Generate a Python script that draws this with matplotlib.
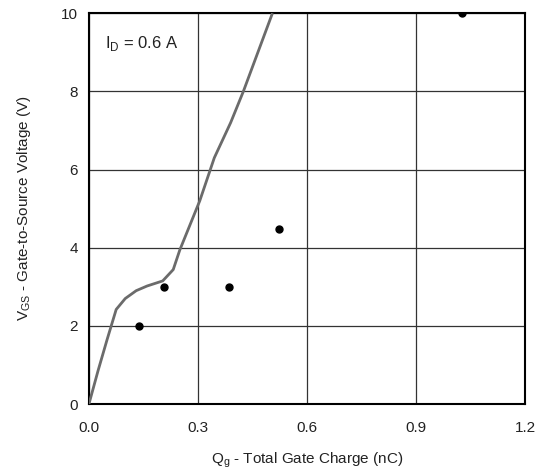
import matplotlib.pyplot as plt

plt.rcParams['font.family'] = ['Liberation Sans', 'DejaVu Sans']
plt.rcParams['mathtext.fontset'] = 'custom'
plt.rcParams['mathtext.rm'] = 'Liberation Sans'

# Gate charge curve
qg_curve = [0.0, 0.025, 0.05, 0.075, 0.10, 0.13, 0.16, 0.203, 0.232, 0.25, 0.305, 0.345, 0.39, 0.425, 0.505]
vgs_curve = [0.0, 0.85, 1.65, 2.42, 2.70, 2.90, 3.02, 3.15, 3.44, 3.94, 5.20, 6.30, 7.20, 8.00, 10.0]

# Measured points
qg_pts = [0.137, 0.207, 0.386, 0.524, 1.028]
vgs_pts = [2.0, 3.0, 3.0, 4.47, 10.0]

fig = plt.figure(figsize=(5.39, 4.72), dpi=100)
ax = fig.add_axes([0.165, 0.144, 0.809, 0.828])

ax.plot(qg_curve, vgs_curve, color='#6b6b6b', lw=2.0, solid_capstyle='butt', zorder=3)
ax.plot(qg_pts, vgs_pts, 'o', color='black', ms=5, zorder=4)

ax.set_xlim(0, 1.2)
ax.set_ylim(0, 10)
ax.set_xticks([0.0, 0.3, 0.6, 0.9, 1.2])
ax.set_xticklabels(['0.0', '0.3', '0.6', '0.9', '1.2'])
ax.set_yticks([0, 2, 4, 6, 8, 10])
ax.tick_params(length=0, labelsize=11, colors='#222222')
ax.tick_params(axis='x', pad=12)
ax.tick_params(axis='y', pad=8)

ax.grid(True, color='#333333', lw=0.9)
for s in ax.spines.values():
    s.set_linewidth(1.5)
    s.set_color('black')

ax.text(0.044, 9.23, r'I$_\mathregular{D}$ = 0.6 A', fontsize=12, color='#222222', va='center')

ax.set_xlabel(r'Q$_\mathregular{g}$ - Total Gate Charge (nC)', fontsize=11, color='#222222', labelpad=11)
ax.set_ylabel(r'V$_\mathregular{GS}$ - Gate-to-Source Voltage (V)', fontsize=11, color='#222222', labelpad=20)

fig.savefig('out.png', dpi=100)
